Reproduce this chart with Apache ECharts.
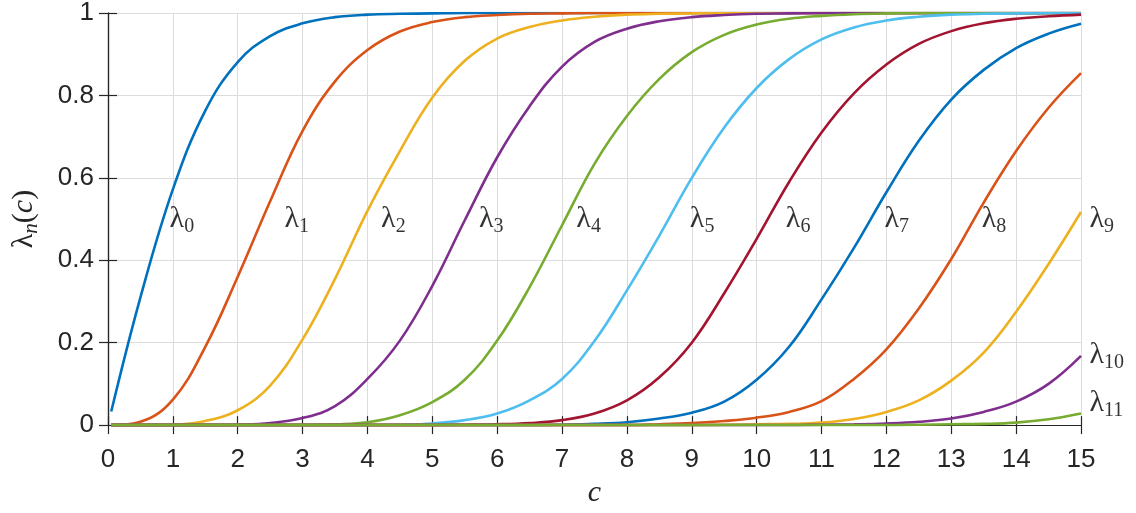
<!DOCTYPE html>
<html>
<head>
<meta charset="utf-8">
<script src="https://cdn.jsdelivr.net/npm/echarts@6/dist/echarts.min.js"></script>
<style>
  html, body { margin: 0; padding: 0; background: #fff; }
  #main { width: 1136px; height: 513px; }
</style>
</head>
<body>
<div id="main"></div>
<script>
// c sample points
const cVals = [0.05, 0.5, 1, 1.5, 2, 2.5, 3, 3.5, 4, 4.5, 5, 5.5, 6, 6.5, 7, 7.5,
  8, 8.5, 9, 9.5, 10, 10.5, 11, 11.5, 12, 12.5, 13, 13.5, 14, 14.5, 15];

// eigenvalues lambda_n(c)
const lam0 = [0.033, 0.31, 0.572, 0.763, 0.881, 0.944, 0.975, 0.99, 0.996, 0.998, 0.999,
  1, 1, 1, 1, 1, 1, 1, 1, 1, 1, 1, 1, 1, 1, 1, 1, 1, 1, 1, 1];
const lam1 = [0, 0.008, 0.062, 0.19, 0.36, 0.543, 0.714, 0.834, 0.91, 0.955, 0.978,
  0.99, 0.995, 0.998, 0.999, 1, 1, 1, 1, 1, 1, 1, 1, 1, 1, 1, 1, 1, 1, 1, 1];
const lam2 = [0, 0, 0.001, 0.01, 0.036, 0.096, 0.208, 0.355, 0.52, 0.665, 0.795,
  0.884, 0.938, 0.966, 0.982, 0.991, 0.996, 0.998, 0.999, 1, 1, 1, 1, 1, 1, 1, 1, 1, 1, 1, 1];
const lam3 = [0, 0, 0, 0, 0.001, 0.005, 0.017, 0.046, 0.112, 0.205, 0.338,
  0.497, 0.65, 0.774, 0.87, 0.93, 0.962, 0.98, 0.99, 0.995, 0.998, 0.999,
  1, 1, 1, 1, 1, 1, 1, 1, 1];
const lam4 = [0, 0, 0, 0, 0, 0, 0, 0.002, 0.007, 0.024, 0.056,
  0.11, 0.205, 0.335, 0.485, 0.634, 0.75, 0.84, 0.905, 0.947, 0.972, 0.986,
  0.993, 0.997, 0.999, 1, 1, 1, 1, 1, 1];
const lam5 = [0, 0, 0, 0, 0, 0, 0, 0, 0, 0.001, 0.004,
  0.012, 0.028, 0.06, 0.112, 0.204, 0.327, 0.46, 0.6, 0.722, 0.818, 0.888,
  0.936, 0.965, 0.982, 0.991, 0.996, 0.998, 0.999, 1, 1];
const lam6 = [0, 0, 0, 0, 0, 0, 0, 0, 0, 0, 0,
  0.001, 0.002, 0.005, 0.012, 0.028, 0.06, 0.116, 0.2, 0.32, 0.452, 0.59,
  0.71, 0.805, 0.875, 0.925, 0.956, 0.975, 0.986, 0.992, 0.996];
const lam7 = [0, 0, 0, 0, 0, 0, 0, 0, 0, 0, 0,
  0, 0, 0, 0.001, 0.003, 0.007, 0.016, 0.03, 0.057, 0.11, 0.19,
  0.305, 0.43, 0.565, 0.69, 0.79, 0.862, 0.915, 0.95, 0.974];
const lam8 = [0, 0, 0, 0, 0, 0, 0, 0, 0, 0, 0,
  0, 0, 0, 0, 0, 0, 0.002, 0.005, 0.01, 0.018, 0.032,
  0.058, 0.112, 0.184, 0.283, 0.403, 0.54, 0.665, 0.77, 0.854];
const lam9 = [0, 0, 0, 0, 0, 0, 0, 0, 0, 0, 0,
  0, 0, 0, 0, 0, 0, 0, 0, 0.001, 0.002, 0.003,
  0.006, 0.015, 0.032, 0.06, 0.108, 0.176, 0.275, 0.391, 0.517];
const lam10 = [0, 0, 0, 0, 0, 0, 0, 0, 0, 0, 0,
  0, 0, 0, 0, 0, 0, 0, 0, 0, 0, 0,
  0.001, 0.002, 0.004, 0.008, 0.016, 0.032, 0.057, 0.1, 0.168];
const lam11 = [0, 0, 0, 0, 0, 0, 0, 0, 0, 0, 0,
  0, 0, 0, 0, 0, 0, 0, 0, 0, 0, 0,
  0, 0, 0, 0.001, 0.002, 0.003, 0.006, 0.014, 0.028];

const allLam = [lam0, lam1, lam2, lam3, lam4, lam5, lam6, lam7, lam8, lam9, lam10, lam11];
const colors = ['#0072BD', '#D95319', '#EDB120', '#7E2F8E', '#77AC30', '#4DBEEE',
  '#A2142F', '#0072BD', '#D95319', '#EDB120', '#7E2F8E', '#77AC30'];

// where the curve labels sit (c, lambda)
const labelC = [0.95, 2.72, 4.21, 5.72, 7.22, 8.97, 10.45, 11.97, 13.47, 15.13, 15.13, 15.13];
const labelV = [0.5, 0.5, 0.5, 0.5, 0.5, 0.5, 0.5, 0.5, 0.5, 0.5, 0.171, 0.054];

const axisColor = '#262626';
const tickFont = 'Liberation Sans';
const mathFont = 'Liberation Serif';

let myChart = echarts.init(document.getElementById('main'), null, { renderer: 'canvas' });

let series = allLam.map((arr, i) => ({
  name: 'lambda' + i,
  type: 'line',
  data: cVals.map((c, k) => [c, arr[k]]),
  showSymbol: false,
  smooth: 0.4,
  lineStyle: { width: 2.6, color: colors[i] },
  itemStyle: { color: colors[i] },
  z: 3 + i
}));

series.push({
  type: 'scatter',
  silent: true,
  clip: false,
  symbolSize: 0,
  data: labelC.map((c, i) => ({ value: [c, labelV[i]], n: i })),
  label: {
    show: true,
    position: 'right',
    distance: 0,
    formatter: p => '{l|λ}{s|' + p.data.n + '}',
    rich: {
      l: { fontFamily: mathFont, fontSize: 30, color: '#000', lineHeight: 36, verticalAlign: 'middle' },
      s: { fontFamily: mathFont, fontSize: 20, color: '#000', lineHeight: 20, verticalAlign: 'bottom' }
    }
  },
  z: 20
});

const sideAxis = {
  min: 0, max: 15, interval: 1,
  axisLine: { show: true, lineStyle: { color: axisColor, width: 1.2 } },
  axisTick: { show: true, inside: true, length: 9, lineStyle: { color: axisColor, width: 1.2 } },
  axisLabel: { show: false },
  splitLine: { show: false }
};

let option = {
  animation: false,
  backgroundColor: '#fff',
  grid: { left: 108, right: 55, top: 9, bottom: 86 },
  xAxis: [
    {
      type: 'value',
      min: 0, max: 15, interval: 1,
      name: 'c',
      nameLocation: 'middle',
      nameGap: 52,
      nameTextStyle: { fontFamily: mathFont, fontStyle: 'italic', fontSize: 30, color: axisColor },
      axisLine: { show: true, onZero: false, lineStyle: { color: axisColor, width: 1.2 } },
      axisTick: { show: true, inside: true, length: 9, lineStyle: { color: axisColor, width: 1.2 } },
      axisLabel: { fontFamily: tickFont, fontSize: 26, color: axisColor, margin: 22 },
      splitLine: { show: true, lineStyle: { color: '#dcdcdc', width: 1 } }
    },
    Object.assign({ type: 'value', position: 'top' }, sideAxis)
  ],
  yAxis: [
    {
      type: 'value',
      min: 0, max: 1, interval: 0.2,
      name: '{l|λ}{s|n}{l|(}{i|c}{l|)}',
      nameLocation: 'middle',
      nameGap: 66,
      nameRotate: 90,
      nameTextStyle: {
        color: axisColor,
        rich: {
          l: { fontFamily: mathFont, fontSize: 30, color: axisColor, lineHeight: 36, verticalAlign: 'middle' },
          i: { fontFamily: mathFont, fontStyle: 'italic', fontSize: 30, color: axisColor, lineHeight: 36, verticalAlign: 'middle' },
          s: { fontFamily: mathFont, fontStyle: 'italic', fontSize: 21, color: axisColor, lineHeight: 20, verticalAlign: 'bottom' }
        }
      },
      axisLine: { show: true, onZero: false, lineStyle: { color: axisColor, width: 1.2 } },
      axisTick: { show: true, inside: true, length: 9, lineStyle: { color: axisColor, width: 1.2 } },
      axisLabel: { fontFamily: tickFont, fontSize: 26, color: axisColor, margin: 14 },
      splitLine: { show: true, lineStyle: { color: '#dcdcdc', width: 1 } }
    },
    Object.assign({ type: 'value', position: 'right' }, sideAxis, { min: 0, max: 1, interval: 0.2 })
  ],
  series: series
};

myChart.setOption(option);
</script>
</body>
</html>
